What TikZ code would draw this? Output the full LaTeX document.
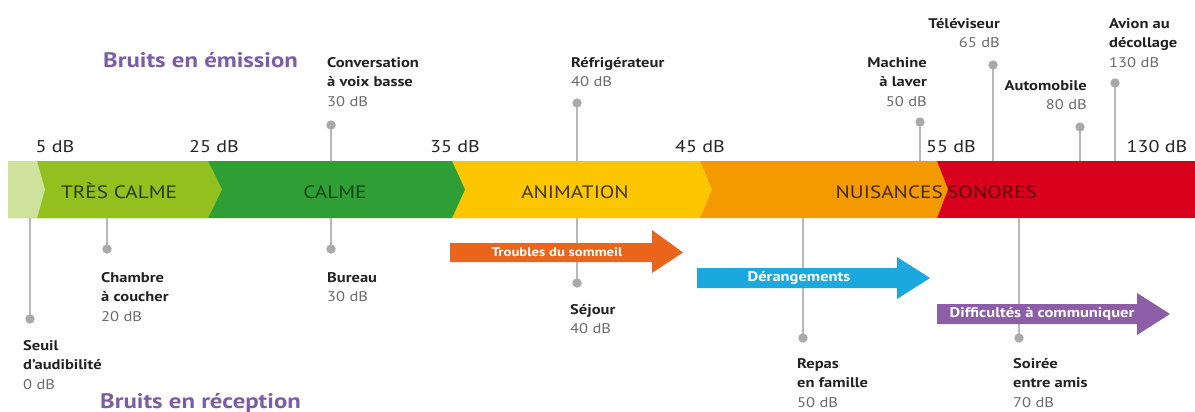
\documentclass[tikz,border=0pt]{standalone}
\usepackage{fontspec}
\setmainfont{PT Sans}[FakeStretch=1.18]
\definecolor{cPale}{HTML}{CFE29B}
\definecolor{cLime}{HTML}{93C01F}
\definecolor{cGreen}{HTML}{2E9E35}
\definecolor{cYellow}{HTML}{FCC700}
\definecolor{cOrange}{HTML}{F29A00}
\definecolor{cRed}{HTML}{D8001C}
\definecolor{cHead}{HTML}{7B5CA6}
\definecolor{cDot}{HTML}{A9A9A9}
\definecolor{cStem}{HTML}{B8B8B8}
\definecolor{cVal}{HTML}{6A6A6A}
\definecolor{cName}{HTML}{222222}
\definecolor{aOrange}{HTML}{E8651B}
\definecolor{aBlue}{HTML}{1BA8DF}
\definecolor{aPurple}{HTML}{8C5EA8}
\definecolor{tLime}{HTML}{2A3A0C}
\definecolor{tGreen}{HTML}{124515}
\definecolor{tYellow}{HTML}{463500}
\definecolor{tOrange}{HTML}{452A00}
\definecolor{tRed}{HTML}{62000F}
\newcommand{\nm}[1]{{\bfseries\color{cName}#1}}
\newcommand{\vl}[1]{{\color{cVal}#1}}
\newcommand{\fl}{\rule{0pt}{12pt}}
\begin{document}
\begin{tikzpicture}[x=1pt,y=-1pt,
  dot/.style={circle,fill=cDot,inner sep=0pt,minimum size=9pt},
  stem/.style={draw=cStem,line width=1.8pt},
  lab/.style={inner sep=0pt,font=\fontsize{14}{19.5}\selectfont},
  labL/.style={lab,anchor=north west,align=left},
  labR/.style={lab,anchor=north east,align=right},
  db/.style={inner sep=0pt,anchor=base,font=\fontsize{17}{20}\selectfont,text=black!85},
  band/.style={inner sep=0pt,anchor=base,font=\fontsize{18}{20}\selectfont},
  head/.style={inner sep=0pt,anchor=base west,font=\fontsize{21}{24}\selectfont\bfseries,text=cHead},
  arrtxt/.style={inner sep=0pt,font=\fontsize{14}{15}\selectfont\bfseries,text=white}
]
\useasboundingbox (0,0) rectangle (1195,412);
% band segments (right to left)
\fill[cRed] (700,161) rectangle (1195,218);
\fill[cOrange] (455,161) -- (937,161) -- (948,189.5) -- (937,218) -- (455,218) -- cycle;
\fill[cYellow] (210,161) -- (700,161) -- (712,189.5) -- (700,218) -- (210,218) -- cycle;
\fill[cGreen] (30,161) -- (452,161) -- (465,189.5) -- (452,218) -- (30,218) -- cycle;
\fill[cLime] (8,161) -- (208,161) -- (222,189.5) -- (208,218) -- (8,218) -- cycle;
\fill[cPale] (8,161) -- (37,161) -- (45,189.5) -- (37,218) -- (8,218) -- cycle;
% band texts
\node[band,text=tLime] (t1) at (119,198) {TRÈS CALME};
\node[band,text=tGreen] (t2) at (335,198) {CALME};
\node[band,text=tYellow] (t3) at (575,198) {ANIMATION};
\node[band,text=tOrange,anchor=base east] (t4) at (943,198) {NUISANCES};
\node[band,text=tRed,anchor=base west] (t5) at (947,198) {SONORES};
% dB scale
\node[db] (d1) at (55,152) {5 dB};
\node[db] (d2) at (214,152) {25 dB};
\node[db] (d3) at (455,152) {35 dB};
\node[db] (d4) at (700,152) {45 dB};
\node[db] (d5) at (951,152) {55 dB};
\node[db] (d6) at (1157,152) {130 dB};
% band edge coordinates
\coordinate (bConv) at (331,161);
\coordinate (bRef) at (577,161);
\coordinate (bMach) at (920,161);
\coordinate (bTele) at (993,161);
\coordinate (bAuto) at (1080,161);
\coordinate (bAvion) at (1115,161);
\coordinate (bSeuil) at (30,218);
\coordinate (bCham) at (107,218);
\coordinate (bBur) at (331,218);
\coordinate (bSej) at (577,218);
\coordinate (bRepas) at (803,218);
\coordinate (bSoir) at (1019,218);
% emission dots
\node[dot] (pConv) at (331,125) {};
\node[dot] (pRef) at (577,103) {};
\node[dot] (pMach) at (920,122) {};
\node[dot] (pTele) at (993,65) {};
\node[dot] (pAuto) at (1080,127) {};
\node[dot] (pAvion) at (1115,83) {};
% reception dots
\node[dot] (pSeuil) at (30,319) {};
\node[dot] (pCham) at (107,249) {};
\node[dot] (pBur) at (331,249) {};
\node[dot] (pSej) at (577,283) {};
\node[dot] (pRepas) at (803,338) {};
\node[dot] (pSoir) at (1019,338) {};
% stems
\draw[stem] (pConv.center) -- (bConv);
\draw[stem] (pRef.center) -- (bRef);
\draw[stem] (pMach.center) -- (bMach);
\draw[stem] (pTele.center) -- (bTele);
\draw[stem] (pAuto.center) -- (bAuto);
\draw[stem] (pAvion.center) -- (bAvion);
\draw[stem] (bSeuil) -- (pSeuil.center);
\draw[stem] (bCham) -- (pCham.center);
\draw[stem] (bBur) -- (pBur.center);
\draw[stem] (bSej) -- (pSej.center);
\draw[stem] (bRepas) -- (pRepas.center);
\draw[stem] (bSoir) -- (pSoir.center);
% redraw dots on top
\foreach \n in {pConv,pRef,pMach,pTele,pAuto,pAvion,pSeuil,pCham,pBur,pSej,pRepas,pSoir}
  \fill[cDot] (\n) circle (4.5pt);
% arrows
\fill[aOrange] (450,243) -- (652,243) -- (652,230) -- (683,252.5) -- (652,273) -- (652,262) -- (450,262) -- cycle;
\node[arrtxt,font=\fontsize{12.5}{15}\selectfont\bfseries] (aw1) at (557,252.5) {Troubles du sommeil};
\fill[aBlue] (697,268) -- (897,268) -- (897,257) -- (930,278) -- (897,299) -- (897,288) -- (697,288) -- cycle;
\node[arrtxt] (aw2) at (799,278) {Dérangements};
\fill[aPurple] (937,304) -- (1137,304) -- (1137,293) -- (1170,314) -- (1137,335) -- (1137,324) -- (937,324) -- cycle;
\node[arrtxt] (aw3) at (1042,314) {Difficultés à communiquer};
% headings
\node[head] (h1) at (103,67) {Bruits en émission};
\node[head] (h2) at (100,408) {Bruits en réception};
% emission labels
\node[labL] (lConv) at (327,55) {\fl\nm{Conversation}\\\nm{à voix basse}\\\vl{30 dB}};
\node[labL] (lRef) at (571,55) {\fl\nm{Réfrigérateur}\\\vl{40 dB}};
\node[labR] (lMach) at (927,55) {\fl\nm{Machine}\\\nm{à laver}\\\vl{50 dB}};
\node[labR] (lTele) at (1000,16) {\fl\nm{Téléviseur}\\\vl{65 dB}};
\node[labR] (lAuto) at (1087,78) {\fl\nm{Automobile}\\\vl{80 dB}};
\node[labL] (lAvion) at (1109,16) {\fl\nm{Avion au}\\\nm{décollage}\\\vl{130 dB}};
% reception labels
\node[labL] (lSeuil) at (23,338) {\fl\nm{Seuil}\\\nm{d’audibilité}\\\vl{0 dB}};
\node[labL] (lCham) at (101,270) {\fl\nm{Chambre}\\\nm{à coucher}\\\vl{20 dB}};
\node[labL] (lBur) at (327,270) {\fl\nm{Bureau}\\\vl{30 dB}};
\node[labL] (lSej) at (570,302) {\fl\nm{Séjour}\\\vl{40 dB}};
\node[labL] (lRepas) at (797,356) {\fl\nm{Repas}\\\nm{en famille}\\\vl{50 dB}};
\node[labL] (lSoir) at (1013,356) {\fl\nm{Soirée}\\\nm{entre amis}\\\vl{70 dB}};
\end{tikzpicture}
\end{document}
